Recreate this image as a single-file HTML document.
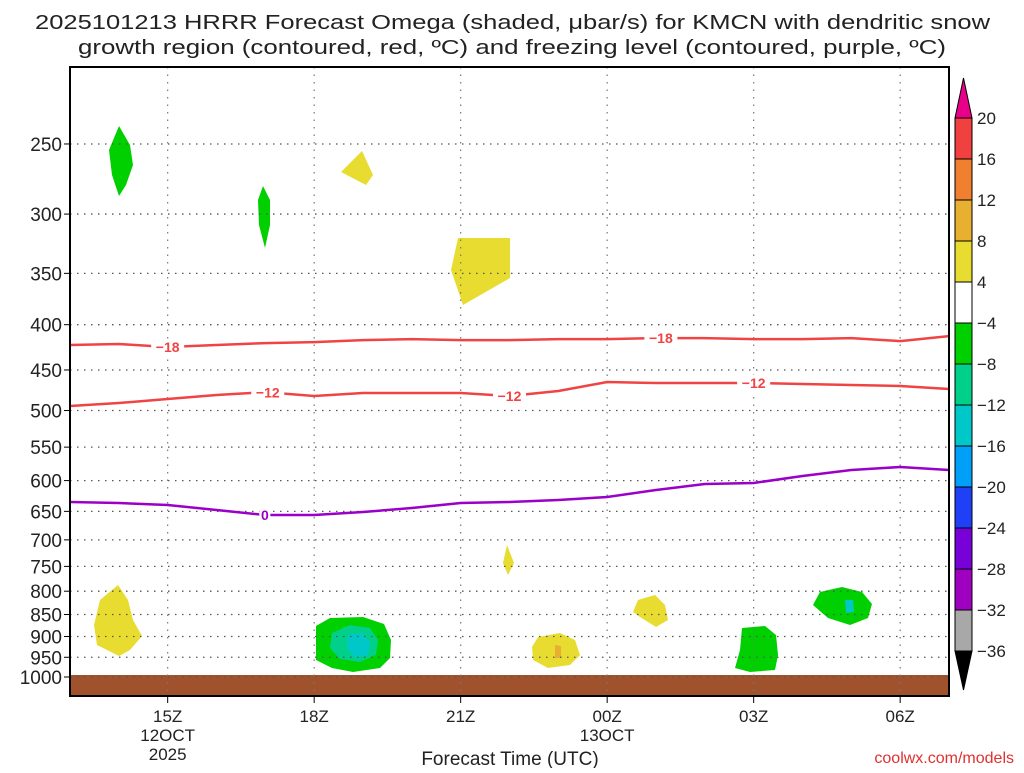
<!DOCTYPE html>
<html><head><meta charset="utf-8"><style>
html,body{margin:0;padding:0;background:#fff;}
body{width:1024px;height:768px;overflow:hidden;font-family:"Liberation Sans",sans-serif;}
svg text{font-family:"Liberation Sans",sans-serif;}
</style></head><body>
<svg id="chart" width="1024" height="768" viewBox="0 0 1024 768">
<text x="35" y="29" textLength="955" lengthAdjust="spacingAndGlyphs" font-size="20" fill="#222">2025101213 HRRR Forecast Omega (shaded, μbar/s) for KMCN with dendritic snow</text>
<text x="78" y="54" textLength="868" lengthAdjust="spacingAndGlyphs" font-size="20" fill="#222">growth region (contoured, red, ºC) and freezing level (contoured, purple, ºC)</text>
<g id="shades">
<path d="M119,126 L130,145 L133,165 L126,185 L119,196 L112,175 L109,150 Z" fill="#00d000"/>
<path d="M263,186 L270,200 L270,225 L265,248 L259,225 L258,200 Z" fill="#00d000"/>
<path d="M362,151 L373,175 L366,185 L341,172 Z" fill="#e8dc30"/>
<path d="M458,238 L510,238 L510,278 L463,305 L451,270 Z" fill="#e8dc30"/>
<path d="M507,545 L514,563 L508,575 L503,563 Z" fill="#e8dc30"/>
<path d="M118,585 L128,600 L133,620 L142,636 L130,650 L119,656 L97,645 L94,625 L100,600 Z" fill="#e8dc30"/>
<path d="M316,626 L330,618 L363,617 L384,624 L391,640 L390,658 L380,668 L353,672 L332,668 L316,660 Z" fill="#00d000"/>
<path d="M332,633 L350,625 L370,628 L378,640 L376,655 L360,662 L340,659 L330,648 Z" fill="#00d08a"/>
<path d="M348,635 L362,633 L370,642 L368,655 L355,658 L347,648 Z" fill="#00c8c8"/>
<path d="M538,637 L560,633 L575,640 L580,655 L570,665 L548,668 L533,660 L532,647 Z" fill="#e8dc30"/>
<path d="M555,645 L561,646 L561,658 L555,658 Z" fill="#e8b030"/>
<path d="M638,600 L655,595 L665,605 L668,620 L656,627 L640,617 L633,612 Z" fill="#e8dc30"/>
<path d="M742,628 L765,626 L776,635 L778,655 L775,670 L750,672 L735,668 L740,650 Z" fill="#00d000"/>
<path d="M820,592 L842,587 L862,592 L872,604 L868,618 L850,625 L828,618 L813,605 Z" fill="#00d000"/>
<path d="M845,600 L853,600 L854,612 L846,613 Z" fill="#00c8c8"/>
</g>
<rect x="70" y="675" width="879" height="21" fill="#a0522d"/>
<g id="grid"></g>
<g id="lines"></g>
<g id="yaxis"></g>
<g id="xaxis"></g>
<rect x="70" y="67" width="879" height="629" fill="none" stroke="#000" stroke-width="2"/>
<text x="510" y="765" text-anchor="middle" font-size="19" fill="#222">Forecast Time (UTC)</text>
<text x="1014" y="763" text-anchor="end" font-size="16" fill="#e03030">coolwx.com/models</text>
<g id="cbar"></g>
</svg>
<script>
const hours=[13,14,15,16,17,18,19,20,21,22,23,24,25,26,27,28,29,30,31];
const iso18=[421.7,420.6,423.9,421.7,419.6,418.5,416.4,415.3,416.4,416.4,415.3,415.3,414.2,414.2,415.3,415.3,414.2,417.4,412.1];
const iso12=[494.2,490.4,485.3,480.3,476.6,481.5,477.8,477.8,477.8,481.5,475.3,464.3,465.5,465.5,465.5,466.7,467.9,469.1,472.8];
const frz0=[634.4,636.0,639.4,647.7,656.2,656.2,651.1,644.4,636.0,634.4,631.1,626.2,614.9,605.3,603.7,592.9,583.7,579.2,583.7];
const pTicks=[250,300,350,400,450,500,550,600,650,700,750,800,850,900,950,1000];
const tTicks=[15,18,21,24,27,30];
const tLabels=["15Z","18Z","21Z","00Z","03Z","06Z"];
const cbLevels=[20,16,12,8,4,-4,-8,-12,-16,-20,-24,-28,-32,-36];
const cbColors=["#f04040","#f08030","#e8b030","#e8dc30","#ffffff","#00d000","#00d08a","#00c8c8","#00a0f8","#2040f8","#7800d8","#a000c0","#a8a8a8"];
const NS="http://www.w3.org/2000/svg";
const X0=70,X1=949,H0=13,H1=31;
const xS=h=>X0+(h-H0)*(X1-X0)/(H1-H0);
const yS=p=>677-384.5*Math.log(1000/p);
function mk(tag,attrs,parent){const e=document.createElementNS(NS,tag);for(const k in attrs)e.setAttribute(k,attrs[k]);parent.appendChild(e);return e;}
const grid=document.getElementById('grid'),lines=document.getElementById('lines'),ya=document.getElementById('yaxis'),xa=document.getElementById('xaxis'),cb=document.getElementById('cbar');
pTicks.forEach(p=>{const y=yS(p);
 const l=mk('line',{x1:X0,x2:X1,y1:y,y2:y,stroke:'#555','stroke-width':1.3,'stroke-dasharray':'1.5 5.5'},grid);
 
 
 const t=mk('line',{x1:X0-6,x2:X0,y1:y,y2:y,stroke:'#000'},ya);
 
 
 const tx=mk('text',{x:X0-8,y:y+7,'text-anchor':'end','font-size':19,fill:'#222'},ya);tx.textContent=p;
 
 
});
tTicks.forEach((h,i)=>{const x=xS(h);
 const l=mk('line',{x1:x,x2:x,y1:67,y2:696,stroke:'#777','stroke-width':1.2,'stroke-dasharray':'1.5 6'},grid);
 
 
 const t=mk('line',{x1:x,x2:x,y1:696,y2:703,stroke:'#000'},xa);
 
 
 const tx=mk('text',{x:x,y:722,'text-anchor':'middle','font-size':17,fill:'#222'},xa);tx.textContent=tLabels[i];
 
 
});
[[15,"12OCT",741],[15,"2025",760],[24,"13OCT",741]].forEach(d=>{const tx=mk('text',{x:xS(d[0]),y:d[2],'text-anchor':'middle','font-size':17,fill:'#222'},xa);tx.textContent=d[1];
 
 });
function series(vals,color,name,labs){
 const d=hours.map((h,i)=>(i?'L':'M')+xS(h).toFixed(1)+','+yS(vals[i]).toFixed(1)).join(' ');
 const p=mk('path',{d:d,fill:'none',stroke:color,'stroke-width':2.5},lines);
 
 
 labs.forEach(lb=>{const i=Math.floor(lb[0]-H0),f=lb[0]-H0-i;const pv=vals[i]+(vals[Math.min(i+1,vals.length-1)]-vals[i])*f;
  const x=xS(lb[0]),y=yS(pv);
  mk('rect',{x:x-lb[1].length*5.5,y:y-8,width:lb[1].length*11,height:16,fill:'#fff'},lines);
  const t=mk('text',{x:x,y:y+5,'text-anchor':'middle','font-size':14,'font-weight':'bold',fill:color},lines);t.textContent=lb[1];
  
  });
}
series(iso18,'#f04444','isotherm-minus18',[[15.0,'−18'],[25.1,'−18']]);
series(iso12,'#f04444','isotherm-minus12',[[17.05,'−12'],[22.0,'−12'],[27.0,'−12']]);
series(frz0,'#9a00c8','freezing-level-0C',[[16.99,'0']]);
// colorbar
const cbX=955,cbW=17,cbTop=118,cbStep=41;
mk('path',{d:`M${cbX},${cbTop} L${cbX+cbW/2},78 L${cbX+cbW},${cbTop} Z`,fill:'#e8008a',stroke:'#000'},cb);
cbColors.forEach((c,i)=>{const r=mk('rect',{x:cbX,y:cbTop+i*cbStep,width:cbW,height:cbStep,fill:c,stroke:'#000','stroke-width':1},cb);
 
 });
const cbBot=cbTop+cbColors.length*cbStep;
mk('path',{d:`M${cbX},${cbBot} L${cbX+cbW/2},690 L${cbX+cbW},${cbBot} Z`,fill:'#000',stroke:'#000'},cb);
cbLevels.forEach((v,i)=>{const t=mk('text',{x:cbX+cbW+5,y:cbTop+i*cbStep+6,'font-size':17,fill:'#222'},cb);t.textContent=v<0?'−'+(-v):v;
 
 });
</script>
</body></html>
